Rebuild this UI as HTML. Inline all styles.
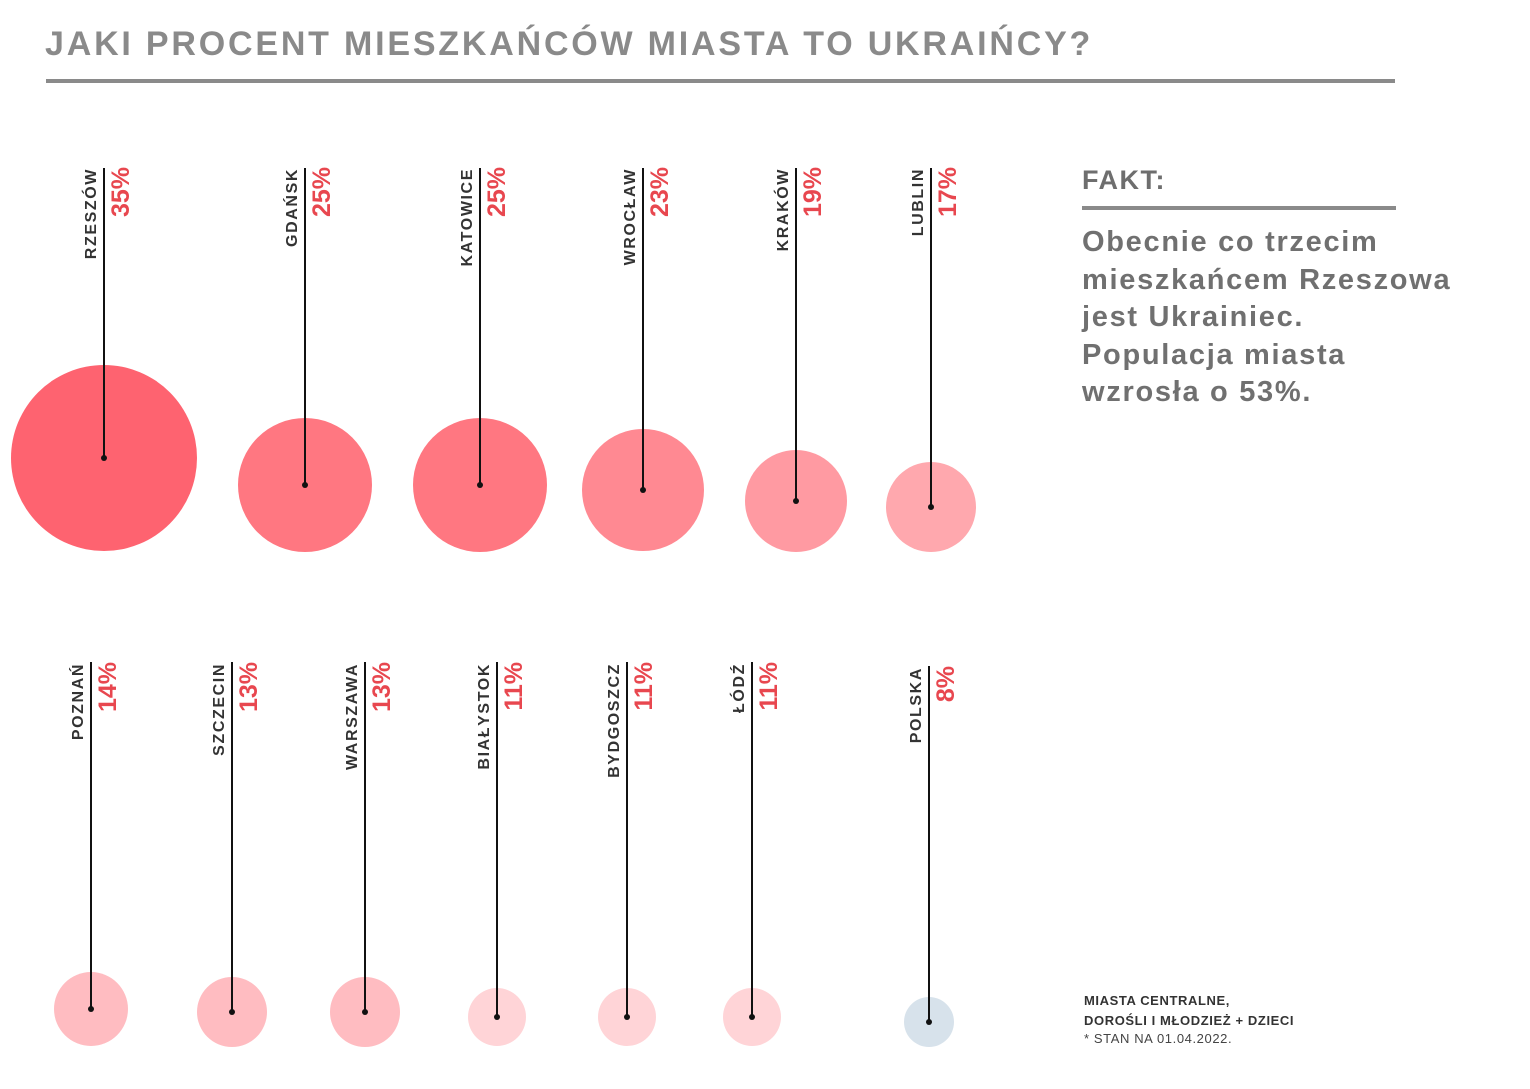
<!DOCTYPE html>
<html><head><meta charset="utf-8"><style>
html,body{margin:0;padding:0;background:#fff;}
svg{display:block}
text{font-family:"Liberation Sans","DejaVu Sans",sans-serif;}
</style></head><body>
<svg width="1530" height="1089" viewBox="0 0 1530 1089" xmlns="http://www.w3.org/2000/svg">
<text x="45" y="55" font-size="34" font-weight="bold" fill="#8a8a8a" letter-spacing="2.8">JAKI PROCENT MIESZKAŃCÓW MIASTA TO UKRAIŃCY?</text>
<rect x="46" y="79" width="1349" height="4" fill="#8a8a8a"/>
<text x="1082" y="189" font-size="27" font-weight="bold" fill="#6e6e6e" letter-spacing="1.5">FAKT:</text>
<rect x="1082" y="206" width="314" height="4" fill="#8a8a8a"/>
<g font-size="29" font-weight="bold" fill="#707070" letter-spacing="1.7">
<text x="1082" y="251">Obecnie co trzecim</text>
<text x="1082" y="289">mieszkańcem Rzeszowa</text>
<text x="1082" y="326">jest Ukrainiec.</text>
<text x="1082" y="364">Populacja miasta</text>
<text x="1082" y="401">wzrosła o 53%.</text>
</g>
<g font-size="13" font-weight="bold" fill="#333" letter-spacing="0.6">
<text x="1084" y="1005">MIASTA CENTRALNE,</text>
<text x="1084" y="1025">DOROŚLI I MŁODZIEŻ + DZIECI</text>
<text x="1084" y="1043" font-weight="normal" fill="#444">* STAN NA 01.04.2022.</text>
</g>
<circle cx="104" cy="458" r="93" fill="#fe6370"/>
<circle cx="305" cy="485" r="67" fill="#ff7781"/>
<circle cx="480" cy="485" r="67" fill="#ff7781"/>
<circle cx="643" cy="490" r="61" fill="#ff8992"/>
<circle cx="796" cy="501" r="51" fill="#ff9aa2"/>
<circle cx="931" cy="507" r="45" fill="#ffa8ae"/>
<circle cx="91" cy="1009" r="37" fill="#ffbcc1"/>
<circle cx="232" cy="1012" r="35" fill="#ffbcc1"/>
<circle cx="365" cy="1012" r="35" fill="#ffbcc1"/>
<circle cx="497" cy="1017" r="29" fill="#ffd4d7"/>
<circle cx="627" cy="1017" r="29" fill="#ffd4d7"/>
<circle cx="752" cy="1017" r="29" fill="#ffd4d7"/>
<circle cx="929" cy="1022" r="25" fill="#d7e2eb"/>
<g stroke="#111" stroke-width="2">
<line x1="104" y1="168" x2="104" y2="458"/>
<line x1="305" y1="168" x2="305" y2="485"/>
<line x1="480" y1="168" x2="480" y2="485"/>
<line x1="643" y1="168" x2="643" y2="490"/>
<line x1="796" y1="168" x2="796" y2="501"/>
<line x1="931" y1="168" x2="931" y2="507"/>
<line x1="91" y1="662" x2="91" y2="1009"/>
<line x1="232" y1="662" x2="232" y2="1012"/>
<line x1="365" y1="662" x2="365" y2="1012"/>
<line x1="497" y1="662" x2="497" y2="1017"/>
<line x1="627" y1="662" x2="627" y2="1017"/>
<line x1="752" y1="662" x2="752" y2="1017"/>
<line x1="929" y1="666" x2="929" y2="1022"/>
</g>
<g fill="#111">
<circle cx="104" cy="458" r="3"/><circle cx="305" cy="485" r="3"/><circle cx="480" cy="485" r="3"/>
<circle cx="643" cy="490" r="3"/><circle cx="796" cy="501" r="3"/><circle cx="931" cy="507" r="3"/>
<circle cx="91" cy="1009" r="3"/><circle cx="232" cy="1012" r="3"/><circle cx="365" cy="1012" r="3"/>
<circle cx="497" cy="1017" r="3"/><circle cx="627" cy="1017" r="3"/><circle cx="752" cy="1017" r="3"/>
<circle cx="929" cy="1022" r="3"/>
</g>
<g font-size="16" font-weight="bold" fill="#333" text-anchor="end" letter-spacing="1.6">
<text transform="translate(96,168) rotate(-90)">RZESZÓW</text>
<text transform="translate(297,168) rotate(-90)">GDAŃSK</text>
<text transform="translate(472,168) rotate(-90)">KATOWICE</text>
<text transform="translate(635,168) rotate(-90)">WROCŁAW</text>
<text transform="translate(788,168) rotate(-90)">KRAKÓW</text>
<text transform="translate(923,168) rotate(-90)">LUBLIN</text>
<text transform="translate(83,663) rotate(-90)">POZNAŃ</text>
<text transform="translate(224,663) rotate(-90)">SZCZECIN</text>
<text transform="translate(357,663) rotate(-90)">WARSZAWA</text>
<text transform="translate(489,663) rotate(-90)">BIAŁYSTOK</text>
<text transform="translate(619,663) rotate(-90)">BYDGOSZCZ</text>
<text transform="translate(744,663) rotate(-90)">ŁÓDŹ</text>
<text transform="translate(921,667) rotate(-90)">POLSKA</text>
</g>
<g font-size="25" font-weight="bold" fill="#e8474f" text-anchor="end">
<text transform="translate(129,167) rotate(-90)">35%</text>
<text transform="translate(330,167) rotate(-90)">25%</text>
<text transform="translate(505,167) rotate(-90)">25%</text>
<text transform="translate(668,167) rotate(-90)">23%</text>
<text transform="translate(821,167) rotate(-90)">19%</text>
<text transform="translate(956,167) rotate(-90)">17%</text>
<text transform="translate(116,662) rotate(-90)">14%</text>
<text transform="translate(257,662) rotate(-90)">13%</text>
<text transform="translate(390,662) rotate(-90)">13%</text>
<text transform="translate(522,662) rotate(-90)">11%</text>
<text transform="translate(652,662) rotate(-90)">11%</text>
<text transform="translate(777,662) rotate(-90)">11%</text>
<text transform="translate(954,666) rotate(-90)">8%</text>
</g>
</svg>
</body></html>
